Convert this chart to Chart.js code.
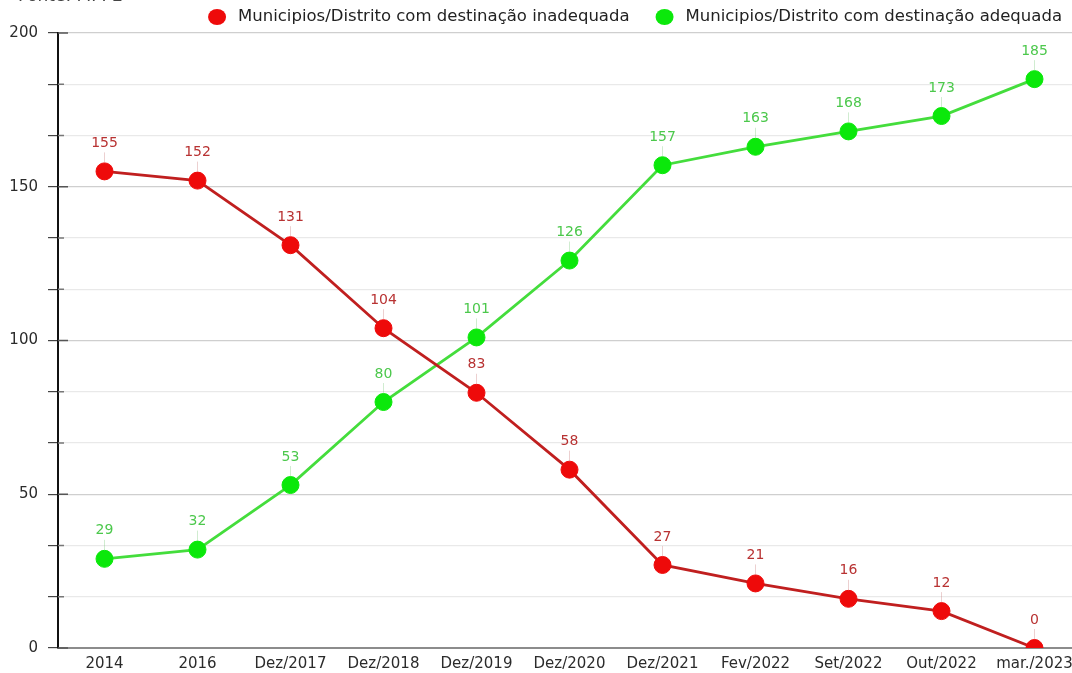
<!DOCTYPE html>
<html>
<head>
<meta charset="utf-8">
<script src="https://cdn.jsdelivr.net/npm/chart.js@4"></script>
<style>
  html, body { margin: 0; padding: 0; background: #fff; overflow: hidden; }
  #wrap { position: absolute; left: 0; top: 0; width: 1100px; height: 673px; }
</style>
</head>
<body>
<div id="wrap"><canvas id="chart" width="1100" height="673"></canvas></div>
<script>
const categories = ['2014', '2016', 'Dez/2017', 'Dez/2018', 'Dez/2019', 'Dez/2020', 'Dez/2021', 'Fev/2022', 'Set/2022', 'Out/2022', 'mar./2023'];
const inadequada = [155, 152, 131, 104, 83, 58, 27, 21, 16, 12, 0];
const adequada = [29, 32, 53, 80, 101, 126, 157, 163, 168, 173, 185];
const yMin = 0;
const yMax = 200;
const yLabelStep = 50;
const yMinorStep = 50 / 3;
const sourceText = 'Fonte: MPPE';

const FONT = "'DejaVu Sans', 'Liberation Sans', Arial, sans-serif";

const colors = {
  redLine: '#c01f1f',
  redPoint: '#ee0a0a',
  redLabel: '#b83232',
  greenLine: '#44dd3c',
  greenPoint: '#0be80b',
  greenLabel: '#4cc84c',
  gridMajor: '#cfcfcf',
  gridMinor: '#e9e9e9',
  text: '#2b2b2b'
};

function isMajor(v) {
  return Math.abs(v / yLabelStep - Math.round(v / yLabelStep)) < 1e-6;
}

// value labels above each point, with a faint leader line
const valueLabels = {
  id: 'valueLabels',
  afterDatasetsDraw(chart) {
    const ctx = chart.ctx;
    ctx.save();
    chart.data.datasets.forEach((ds, i) => {
      const meta = chart.getDatasetMeta(i);
      meta.data.forEach((pt, j) => {
        const x = pt.x, y = pt.y;
        ctx.strokeStyle = ds.leaderColor;
        ctx.lineWidth = 1;
        ctx.beginPath();
        ctx.moveTo(x, y - 19);
        ctx.lineTo(x, y - 9);
        ctx.stroke();
        ctx.fillStyle = ds.labelColor;
        ctx.font = '14px ' + FONT;
        ctx.textAlign = 'center';
        ctx.textBaseline = 'middle';
        ctx.fillText(String(ds.data[j]), x, y - 28);
      });
    });
    ctx.restore();
  }
};

// legend at the top right + clipped source text at top left
const topLegend = {
  id: 'topLegend',
  afterDraw(chart) {
    const ctx = chart.ctx;
    ctx.save();
    ctx.font = '16.5px ' + FONT;
    ctx.textBaseline = 'middle';
    ctx.textAlign = 'left';
    let xEnd = 1062;
    const y = 17;
    const items = chart.data.datasets.slice().reverse();
    items.forEach(ds => {
      const w = ctx.measureText(ds.label).width;
      const tx = xEnd - w;
      ctx.fillStyle = '#222';
      ctx.fillText(ds.label, tx, y);
      ctx.fillStyle = ds.pointBackgroundColor;
      ctx.beginPath();
      ctx.ellipse(tx - 21, y, 9, 8, 0, 0, Math.PI * 2);
      ctx.fill();
      xEnd = tx - 21 - 9 - 26;
    });
    ctx.fillStyle = '#444';
    ctx.font = '17px ' + FONT;
    ctx.textBaseline = 'alphabetic';
    ctx.fillText(sourceText, 18, 1);
    ctx.restore();
  }
};

// small tick marks crossing into the plot area
const innerTicks = {
  id: 'innerTicks',
  afterDraw(chart) {
    const ctx = chart.ctx;
    const ys = chart.scales.y;
    const left = chart.chartArea.left;
    ctx.save();
    ctx.lineWidth = 1.5;
    ys.ticks.forEach(t => {
      const py = ys.getPixelForValue(t.value);
      ctx.strokeStyle = isMajor(t.value) ? '#555' : '#777';
      ctx.beginPath();
      ctx.moveTo(left, py);
      ctx.lineTo(left + (isMajor(t.value) ? 10 : 6), py);
      ctx.stroke();
    });
    ctx.restore();
  }
};

new Chart(document.getElementById('chart'), {
  type: 'line',
  data: {
    labels: categories,
    datasets: [
      {
        label: 'Municipios/Distrito com destinação inadequada',
        data: inadequada,
        borderColor: colors.redLine,
        backgroundColor: colors.redPoint,
        pointBackgroundColor: colors.redPoint,
        pointBorderColor: colors.redPoint,
        labelColor: colors.redLabel,
        leaderColor: 'rgba(200,120,120,0.35)',
        borderWidth: 2.8,
        pointRadius: 8.5,
        pointBorderWidth: 1,
        tension: 0,
        clip: { left: 20, right: 20, top: 20, bottom: 0 }
      },
      {
        label: 'Municipios/Distrito com destinação adequada',
        data: adequada,
        borderColor: colors.greenLine,
        backgroundColor: colors.greenPoint,
        pointBackgroundColor: colors.greenPoint,
        pointBorderColor: colors.greenPoint,
        labelColor: colors.greenLabel,
        leaderColor: 'rgba(120,200,120,0.35)',
        borderWidth: 2.8,
        pointRadius: 8.5,
        pointBorderWidth: 1,
        tension: 0,
        clip: { left: 20, right: 20, top: 20, bottom: 0 }
      }
    ]
  },
  options: {
    responsive: false,
    animation: false,
    devicePixelRatio: 1,
    layout: { padding: { top: 33, right: 19, bottom: 0, left: 0 } },
    plugins: {
      legend: { display: false },
      tooltip: { enabled: false }
    },
    scales: {
      x: {
        offset: true,
        grid: { display: false, drawTicks: false },
        border: { display: true, color: '#8c8c8c', width: 2 },
        ticks: {
          color: colors.text,
          font: { family: FONT, size: 15 },
          padding: 7,
          maxRotation: 0,
          autoSkip: false
        },
        afterFit(scale) { scale.height = 25; }
      },
      y: {
        min: yMin,
        max: yMax,
        border: { display: true, color: '#111', width: 2 },
        grid: {
          color: ctx => isMajor(ctx.tick.value) ? colors.gridMajor : colors.gridMinor,
          lineWidth: 1.2,
          tickLength: 10,
          tickColor: '#444'
        },
        ticks: {
          stepSize: yMinorStep,
          color: colors.text,
          font: { family: FONT, size: 15 },
          padding: 10,
          callback: v => isMajor(v) ? String(Math.round(v)) : ''
        },
        afterFit(scale) { scale.width = 58; }
      }
    }
  },
  plugins: [valueLabels, topLegend, innerTicks]
});
</script>
</body>
</html>
